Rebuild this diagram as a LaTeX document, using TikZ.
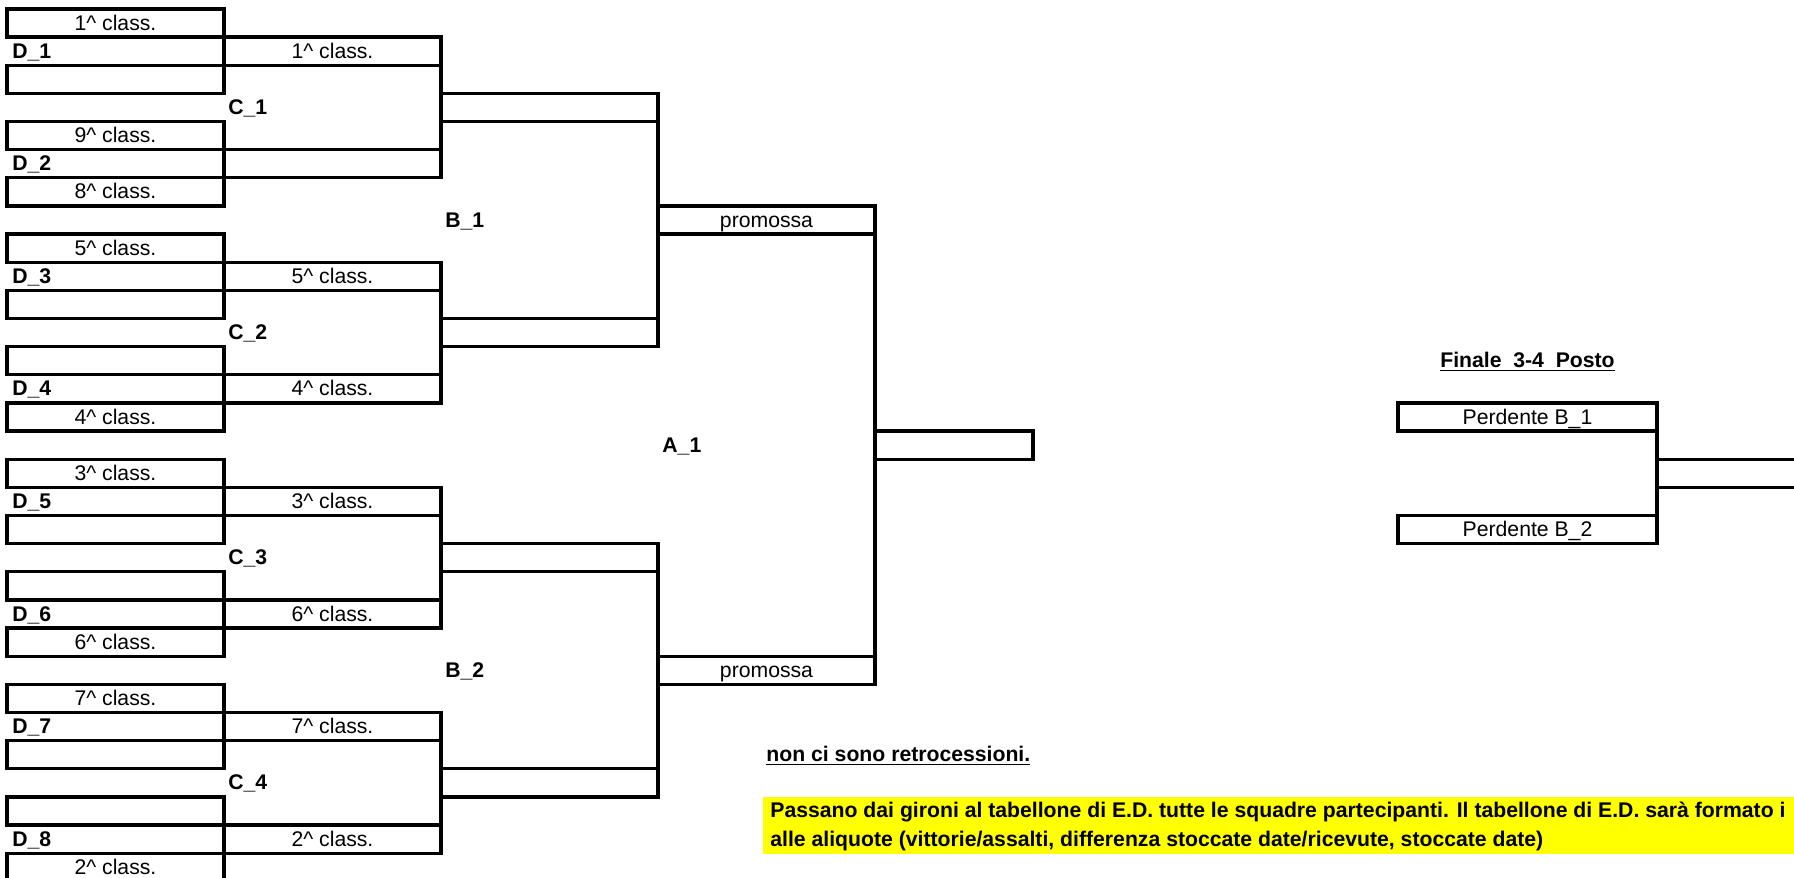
\documentclass[tikz,border=0pt]{standalone}
\usepackage{fontspec}
\setmainfont{Liberation Sans}
\usepackage{tikz}
\usetikzlibrary{positioning}
\definecolor{notebg}{RGB}{255, 255, 0}
\newcommand{\cellfont}{\fontsize{10.6pt}{12pt}\selectfont}
\newcommand{\cls}[1]{#1\textasciicircum{} class.}

\begin{document}
\begin{tikzpicture}[x=0.5pt, y=-0.5pt,
    cellbox/.style={rectangle, draw, line width=1.65pt, minimum width=108.5pt,
                    minimum height=14.07pt, inner sep=0pt, outer sep=0pt,
                    font=\cellfont, text height=9pt, text depth=2pt},
    endbox/.style={cellbox, minimum width=79pt},
    loserbox/.style={cellbox, minimum width=129.5pt},
    stubbox/.style={cellbox, minimum width=121.5pt},
    rowlabel/.style={anchor=west, inner sep=0pt, font=\cellfont\bfseries,
                     text height=9pt, text depth=2pt},
    headline/.style={inner sep=0pt, font=\cellfont\bfseries,
                     text height=9pt, text depth=2pt},
    band/.style={rectangle, fill=notebg, anchor=north west, inner sep=0pt,
                 minimum width=520pt, minimum height=28.14pt},
    link/.style={line width=1.65pt}
]
\useasboundingbox (0,0) rectangle (1794,878);
\clip (0,0) rectangle (1794,878);

\node[cellbox] (d1a) at (115.5,23.07) {\cls{1}};
\node[cellbox] (d1b) at (115.5,79.35) {};
\node[rowlabel] (d1) at (12,51.21) {D\_1};
\node[cellbox] (d2a) at (115.5,135.63) {\cls{9}};
\node[cellbox] (d2b) at (115.5,191.91) {\cls{8}};
\node[rowlabel] (d2) at (12,163.77) {D\_2};
\node[cellbox] (d3a) at (115.5,248.19) {\cls{5}};
\node[cellbox] (d3b) at (115.5,304.47) {};
\node[rowlabel] (d3) at (12,276.33) {D\_3};
\node[cellbox] (d4a) at (115.5,360.75) {};
\node[cellbox] (d4b) at (115.5,417.03) {\cls{4}};
\node[rowlabel] (d4) at (12,388.89) {D\_4};
\node[cellbox] (d5a) at (115.5,473.31) {\cls{3}};
\node[cellbox] (d5b) at (115.5,529.59) {};
\node[rowlabel] (d5) at (12,501.45) {D\_5};
\node[cellbox] (d6a) at (115.5,585.87) {};
\node[cellbox] (d6b) at (115.5,642.15) {\cls{6}};
\node[rowlabel] (d6) at (12,614.01) {D\_6};
\node[cellbox] (d7a) at (115.5,698.43) {\cls{7}};
\node[cellbox] (d7b) at (115.5,754.71) {};
\node[rowlabel] (d7) at (12,726.57) {D\_7};
\node[cellbox] (d8a) at (115.5,810.99) {};
\node[cellbox] (d8b) at (115.5,867.27) {\cls{2}};
\node[rowlabel] (d8) at (12,839.13) {D\_8};

\node[cellbox] (c1a) at (332.5,51.21) {\cls{1}};
\node[cellbox] (c1b) at (332.5,163.77) {};
\node[rowlabel] (c1) at (228,107.49) {C\_1};
\node[cellbox] (c2a) at (332.5,276.33) {\cls{5}};
\node[cellbox] (c2b) at (332.5,388.89) {\cls{4}};
\node[rowlabel] (c2) at (228,332.61) {C\_2};
\node[cellbox] (c3a) at (332.5,501.45) {\cls{3}};
\node[cellbox] (c3b) at (332.5,614.01) {\cls{6}};
\node[rowlabel] (c3) at (228,557.73) {C\_3};
\node[cellbox] (c4a) at (332.5,726.57) {\cls{7}};
\node[cellbox] (c4b) at (332.5,839.13) {\cls{2}};
\node[rowlabel] (c4) at (228,782.85) {C\_4};

\node[cellbox] (b1a) at (549.5,107.49) {};
\node[cellbox] (b1b) at (549.5,332.61) {};
\node[rowlabel] (b1) at (445,220.05) {B\_1};
\node[cellbox] (b2a) at (549.5,557.73) {};
\node[cellbox] (b2b) at (549.5,782.85) {};
\node[rowlabel] (b2) at (445,670.29) {B\_2};

\node[cellbox] (a1a) at (766.5,220.05) {promossa};
\node[cellbox] (a1b) at (766.5,670.29) {promossa};
\node[rowlabel] (a1) at (662,445.17) {A\_1};
\node[endbox] (win) at (954,445.17) {};

\draw[link] (c1a.north east) -- (c1b.south east);
\draw[link] (c2a.north east) -- (c2b.south east);
\draw[link] (c3a.north east) -- (c3b.south east);
\draw[link] (c4a.north east) -- (c4b.south east);
\draw[link] (b1a.north east) -- (b1b.south east);
\draw[link] (b2a.north east) -- (b2b.south east);
\draw[link] (a1a.north east) -- (a1b.south east);

\node[loserbox] (p1) at (1527.5,417.03) {Perdente B\_1};
\node[loserbox, below=42.21pt of p1] (p2) {Perdente B\_2};
\node[headline, above=15.63pt of p1] (fin) {\underline{Finale\ \ 3-4\ \ Posto}};
\node[stubbox] (p3) at (1778.5,473.31) {};
\draw[link] (p1.north east) -- (p2.south east);

\node[rowlabel] (nore) at (766,754.71) {\underline{non ci sono retrocessioni.}};
\node[band] (note) at (763,796.92) {};
\node[rowlabel] (note1) at (770,810.99) {Passano dai gironi al tabellone di E.D. tutte le squadre partecipanti. Il tabellone di E.D. sarà formato i};
\node[rowlabel] (note2) at (770,839.13) {alle aliquote (vittorie/assalti, differenza stoccate date/ricevute, stoccate date)};
\end{tikzpicture}
\end{document}
